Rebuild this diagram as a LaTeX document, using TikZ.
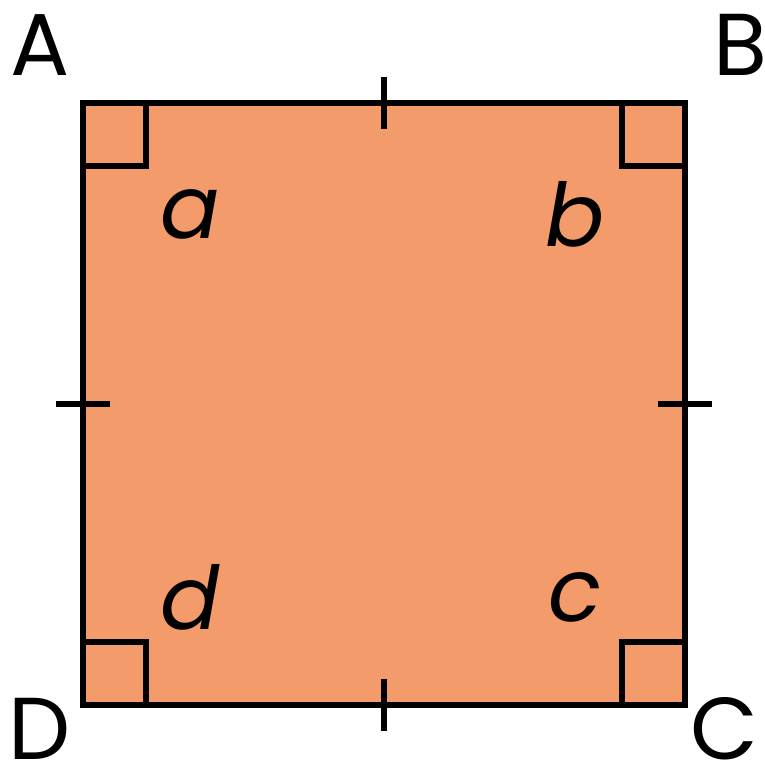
\documentclass[tikz,border=0pt]{standalone}
\usepackage{fontspec}
\setmainfont{Poppins}
\usepackage{tikz}
\usetikzlibrary{calc}
\definecolor{sqfill}{RGB}{243,155,106}

\begin{document}
\begin{tikzpicture}[line width=1.45pt,
    vertex/.style={inner sep=0pt, font=\fontsize{25}{30}\selectfont},
    anglelabel/.style={inner sep=0pt, font=\fontsize{25}{30}\selectfont\itshape}]
        \useasboundingbox (0,0) rectangle (7.64,7.76);
        % corners of the square
        \coordinate (A) at (0.83,6.73);
        \coordinate (B) at (6.85,6.73);
        \coordinate (C) at (6.85,0.71);
        \coordinate (D) at (0.83,0.71);
        % the square
        \draw[fill=sqfill] (A) -- (B) -- (C) -- (D) -- cycle;
        % right angle marks
        \draw (A) ++(0.63,0) -- ++(0,-0.63) -- ++(-0.63,0);
        \draw (B) ++(-0.63,0) -- ++(0,-0.63) -- ++(0.63,0);
        \draw (C) ++(-0.63,0) -- ++(0,0.63) -- ++(0.63,0);
        \draw (D) ++(0.63,0) -- ++(0,0.63) -- ++(-0.63,0);
        % equal side ticks
        \draw ($(A)!0.5!(B)$) ++(0,0.26) -- ++(0,-0.52);
        \draw ($(D)!0.5!(C)$) ++(0,0.26) -- ++(0,-0.52);
        \draw ($(A)!0.5!(D)$) ++(-0.27,0) -- ++(0.54,0);
        \draw ($(B)!0.5!(C)$) ++(-0.27,0) -- ++(0.54,0);
        % vertex labels
        \node[vertex] (labA) at (0.40,7.31) {A};
        \node[vertex] (labB) at (7.40,7.31) {B};
        \node[vertex] (labC) at (7.24,0.47) {C};
        \node[vertex] (labD) at (0.40,0.47) {D};
        % angle labels
        \node[anglelabel] (anga) at (1.90,5.62) {a};
        \node[anglelabel] (angb) at (5.75,5.62) {b};
        \node[anglelabel] (angc) at (5.75,1.79) {c};
        \node[anglelabel] (angd) at (1.90,1.79) {d};
    \end{tikzpicture}
\end{document}
